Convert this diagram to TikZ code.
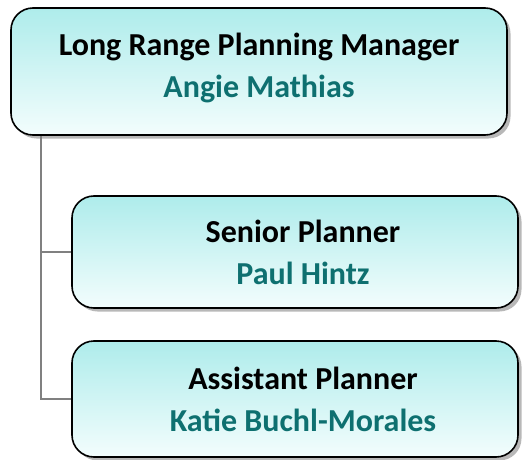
\documentclass[tikz,border=0pt]{standalone}
\usepackage{fontspec}
\setmainfont{Carlito}
\usetikzlibrary{shadows,calc}
\definecolor{boxtop}{RGB}{174,236,235}
\definecolor{boxbot}{RGB}{243,253,253}
\definecolor{nametxt}{RGB}{14,112,112}
\definecolor{linkgray}{RGB}{128,128,128}
\tikzset{
  orgbox/.style={draw=black, line width=1.6pt, rounded corners=22pt,
    top color=boxtop, bottom color=boxbot, inner sep=0pt,
    drop shadow={shadow xshift=3.5pt, shadow yshift=-3.5pt, fill=black!28, opacity=1},
    align=center, font=\fontsize{32}{42}\selectfont\bfseries},
  link/.style={draw=linkgray, line width=1.8pt},
}
\newcommand{\nm}[1]{\textcolor{nametxt}{#1}}
\newcommand{\ind}{\hspace*{16pt}}
\begin{document}
\begin{tikzpicture}[x=1pt,y=1pt]
\useasboundingbox (0,0) rectangle (522,459);
\node[orgbox, minimum width=496pt, minimum height=127pt] (top) at (259,387.5)
  {Long Range Planning Manager\\\raisebox{0pt}[\height][\dimexpr\depth+7pt\relax]{\nm{Angie Mathias}}};
\node[orgbox, minimum width=446pt, minimum height=112pt] (sen) at (295,207)
  {\ind Senior Planner\\\ind\nm{Paul Hintz}};
\node[orgbox, minimum width=446pt, minimum height=116pt] (asst) at (295,60)
  {\ind Assistant Planner\\\ind\nm{Katie Buchl-Morales}};
\coordinate (trunk) at ($(top.south west)+(31,0)$);
\draw[link] (trunk) |- (asst.west);
\draw[link] (trunk |- sen.west) -- (sen.west);
\end{tikzpicture}
\end{document}
